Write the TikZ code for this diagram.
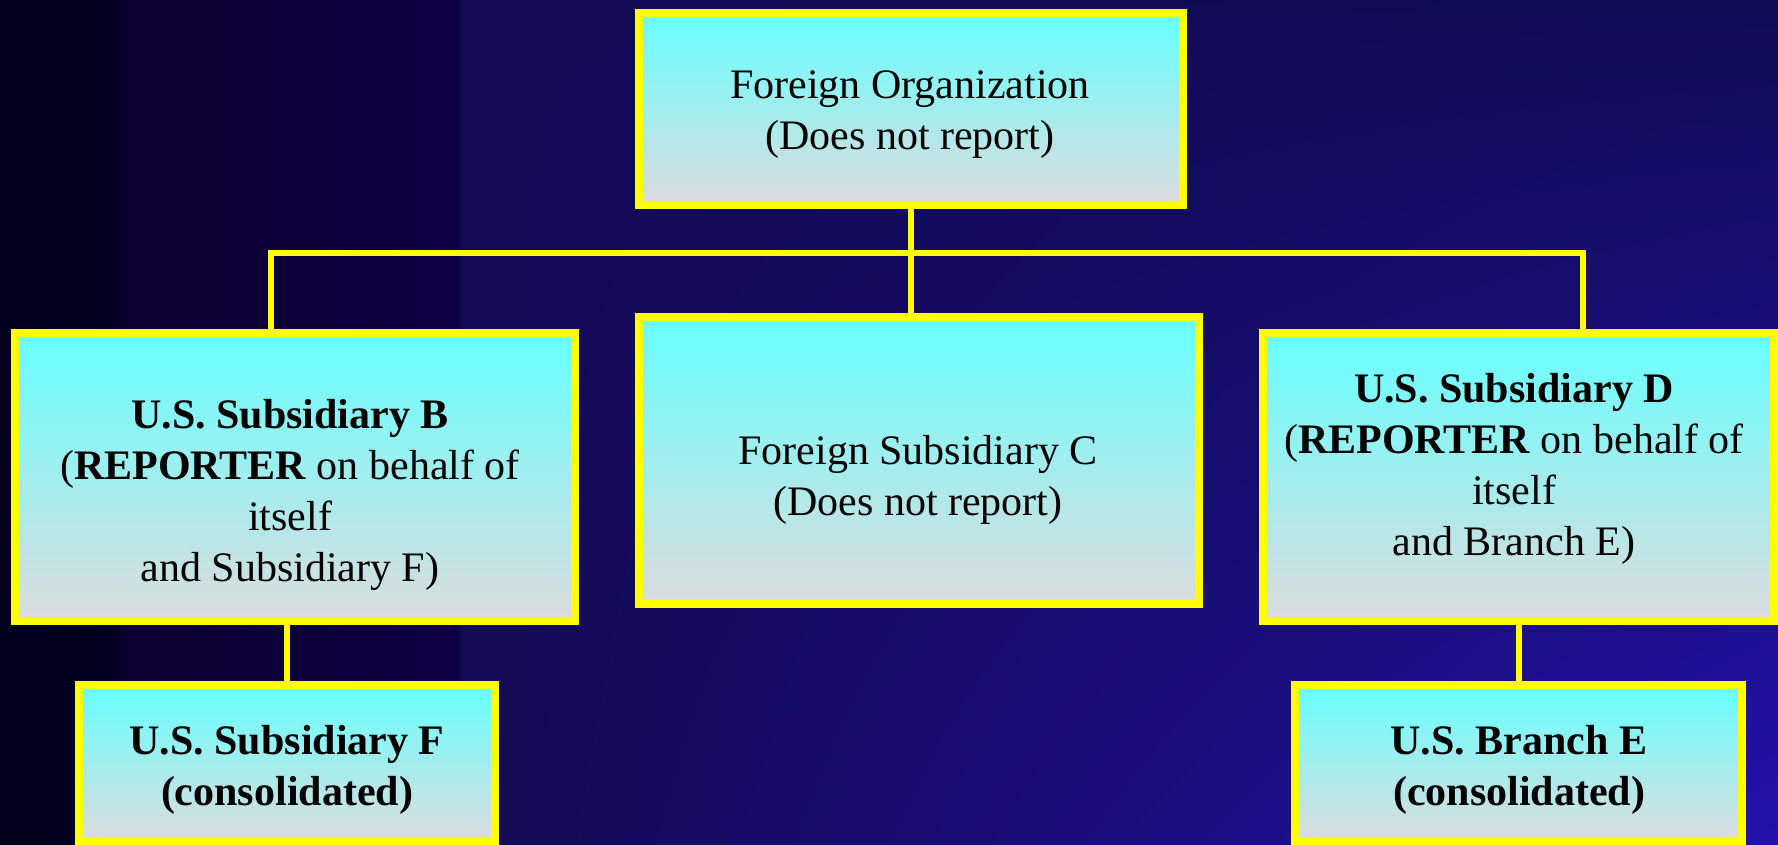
\documentclass[tikz,border=0pt]{standalone}
\usepackage{fontspec}
\setmainfont{Liberation Serif}
\usetikzlibrary{shadings}
\definecolor{boxtop}{HTML}{66FFFF}
\definecolor{boxbot}{HTML}{DCDCDC}
\definecolor{frame}{HTML}{FFFF00}
\definecolor{bgA}{HTML}{00001A}
\definecolor{bgB}{HTML}{030022}
\definecolor{bgC}{HTML}{09002E}
\definecolor{bgD}{HTML}{0E0044}
\definecolor{bgE}{HTML}{120A55}
\definecolor{bgF}{HTML}{110C56}
\definecolor{bgG}{HTML}{120A52}
\definecolor{bgH}{HTML}{2311AA}
\begin{document}
\begin{tikzpicture}[x=1pt,y=1pt]

      \useasboundingbox (0,0) rectangle (1778,845);

      % background
      \shade[upper left=bgA, lower left=bgA, upper right=bgB, lower right=bgB] (0,0) rectangle (120,845);
      \shade[upper left=bgC, lower left=bgC, upper right=bgD, lower right=bgD] (120,0) rectangle (460,845);
      \shade[upper left=bgE, lower left=bgG, upper right=bgF, lower right=bgH] (460,0) rectangle (1778,845);

      \begin{scope}[every node/.style={draw=frame, line width=8pt, top color=boxtop, bottom color=boxbot, inner sep=0pt}]
        \node[minimum width=544pt, minimum height=192pt] (org) at (911,736)    {};
        \node[minimum width=560pt, minimum height=287pt] (c)   at (919,384.5)  {};
        \node[minimum width=560pt, minimum height=288pt] (b)   at (295,368)    {};
        \node[minimum width=511pt, minimum height=288pt] (d)   at (1518.5,368) {};
        \node[minimum width=416pt, minimum height=156pt] (f)   at (287,82)     {};
        \node[minimum width=447pt, minimum height=156pt] (e)   at (1518.5,82)  {};
      \end{scope}

      \coordinate (busl) at (271,592);
      \coordinate (busr) at (1583,592);

      \begin{scope}[every path/.style={draw=frame, line width=6pt}]
        \path (org.south) -- (org.south |- c.north);
        \path (busl |- b.north) -- (busl) -- (busr) -- (busr |- d.north);
        \path (b.south -| f.north) -- (f.north);
        \path (d.south -| e.north) -- (e.north);
      \end{scope}

      \begin{scope}[every node/.style={align=center, text=black, font=\fontsize{42}{51}\selectfont}]
        \node (orgtext) at (910,730)  {Foreign Organization\\(Does not report)};
        \node (ctext)   at (918,365)  {Foreign Subsidiary C\\(Does not report)};
        \node (btext)   at (290,350)  {\textbf{U.S. Subsidiary B}\\(\textbf{REPORTER} on behalf of\\itself\\and Subsidiary F)};
        \node (dtext)   at (1514,376) {\textbf{U.S. Subsidiary D}\\(\textbf{REPORTER} on behalf of\\itself\\and Branch E)};
        \node (ftext)   at (287,75.5) {\textbf{U.S. Subsidiary F}\\\textbf{(consolidated)}};
        \node (etext)   at (1519,75.5) {\textbf{U.S. Branch E}\\\textbf{(consolidated)}};
      \end{scope}

    \end{tikzpicture}
\end{document}
